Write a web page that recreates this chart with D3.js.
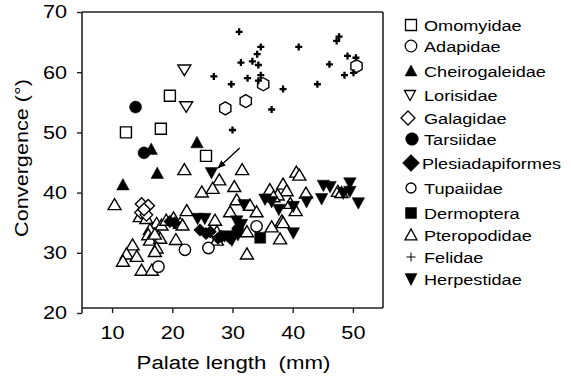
<!DOCTYPE html>
<html><head><meta charset="utf-8">
<script src="https://cdn.jsdelivr.net/npm/d3@7"></script>
<style>body{margin:0;background:#fff}svg{display:block;font-family:"Liberation Sans",Arial,sans-serif}</style>
</head><body><svg id="c" width="571" height="376"></svg>
<script>
const xTicks=[10,20,30,40,50];
const yTicks=[20,30,40,50,60,70];
const omomyidae=[[12.3,50.0],[18.1,50.6],[19.6,56.1],[25.6,46.1]];
const adapidae=[[28.8,54.0],[32.2,55.2],[35.1,58.0],[50.6,61.0]];
const cheirogaleidae=[[11.8,41.3],[16.5,47.2],[17.5,43.2],[24.1,48.3]];
const lorisidae=[[22.0,60.4],[22.3,54.3]];
const galagidae=[[14.9,38.1],[16.0,37.8],[14.8,36.7],[15.7,36.3],[15.3,37.2]];
const tarsiidae=[[13.9,54.2],[15.3,46.6]];
const plesiadapiformes=[[19.6,35.2],[20.4,35.0],[24.6,33.8],[25.6,33.2],[26.3,33.5],[27.6,32.4],[28.2,32.7],[29.6,32.4],[30.4,33.2],[30.9,34.1]];
const tupaiidae=[[17.7,27.7],[22.1,30.5],[26.0,30.8],[34.0,34.4]];
const dermoptera=[[34.6,32.5]];
const pteropodidae=[[10.4,38.0],[22.0,43.8],[31.6,43.8],[27.8,42.1],[24.9,40.1],[26.7,40.7],[30.3,41.0],
[14.6,36.0],[15.7,35.7],[17.4,34.9],[18.2,34.6],[19.0,35.4],[20.2,35.8],[22.4,37.0],[21.3,34.9],[21.7,34.6],
[16.3,33.9],[16.0,33.0],[17.7,32.7],[16.3,32.1],[18.0,32.4],[17.1,33.1],[20.6,32.2],
[17.4,30.8],[17.1,30.2],[13.4,31.3],[12.4,29.8],[14.1,29.4],[11.8,28.6],[14.9,27.1],[16.6,27.1],
[27.1,35.4],[29.6,36.8],[30.7,38.8],[32.9,37.9],[34.0,36.8],[27.4,32.1],[27.4,33.5],[32.4,33.5],
[32.4,29.8],[36.5,34.3],[37.9,32.3],[38.2,35.3],[38.4,35.0],[36.2,40.5],[38.4,41.4],[39.0,40.3],[37.5,39.6],[36.8,39.3],[39.6,38.2],[40.5,37.0],[42.2,39.9],[40.6,43.4],[41.1,42.9],[47.5,40.2],[48.1,40.0]];
const felidae=[[31.1,66.7],[47.7,65.9],[47.3,65.2],[34.7,64.2],[41.0,64.2],[34.1,63.0],[31.4,61.6],[33.3,61.8],[34.3,61.2],[49.1,62.7],[50.5,62.4],[46.1,61.3],[26.9,59.3],[32.5,59.0],[34.7,59.5],[34.3,58.6],[29.8,58.0],[48.6,59.5],[50.1,59.9],[38.4,57.2],[44.1,58.0],[36.5,53.8],[30.0,50.4]];
const herpestidae=[[26.5,43.3],[24.2,35.7],[25.4,35.7],[30.7,35.3],[31.5,34.7],[31.9,38.0],[28.7,32.8],[29.9,32.1],[30.9,33.0],[35.4,38.9],[36.5,38.5],[37.7,37.2],[40.1,37.7],[42.3,38.5],[40.1,33.3],[44.8,39.0],[45.1,41.2],[46.2,41.0],[48.4,39.9],[49.5,41.6],[49.5,40.2],[50.9,38.3]];
const arrowFrom=[31.2,47.4], arrowTo=[27.6,44.1];
const legendNames=["Omomyidae","Adapidae","Cheirogaleidae","Lorisidae","Galagidae","Tarsiidae","Plesiadapiformes","Tupaiidae","Dermoptera","Pteropodidae","Felidae","Herpestidae"];

const SX=1.17; // wide glyph rendering in the reference
const svg=d3.select("#c");
const x=d3.scaleLinear().domain([5,55]).range([82,383]);
const y=d3.scaleLinear().domain([20,70]).range([313,12]);
const axisY=308;

function tri(w,h,down){const a=down?-1:1;return `M0,${-a*h*0.55}L${w/2},${a*h*0.45}L${-w/2},${a*h*0.45}Z`;}
function sq(s){return `M${-s/2},${-s/2}H${s/2}V${s/2}H${-s/2}Z`;}
function circ(r){return `M${r},0A${r},${r} 0 1,1 ${-r},0A${r},${r} 0 1,1 ${r},0Z`;}
function dia(w,h){return `M0,${-h/2}L${w/2},0L0,${h/2}L${-w/2},0Z`;}
function hex(r){let p=[];for(let i=0;i<6;i++){const a=Math.PI/2+i*Math.PI/3;p.push([r*Math.cos(a),r*Math.sin(a)]);}return "M"+p.map(d=>d.join(",")).join("L")+"Z";}
function plus(s){return `M${-s/2},0H${s/2}M0,${-s/2}V${s/2}`;}

const series=[
 {d:pteropodidae,p:tri(13,11,false),fill:"#fff",sw:1.4},
 {d:omomyidae,p:sq(11),fill:"#fff",sw:1.4},
 {d:adapidae,p:hex(6.5),fill:"#fff",sw:1.4},
 {d:lorisidae,p:tri(13,10.5,true),fill:"#fff",sw:1.4},
 {d:galagidae,p:dia(12.5,12.5),fill:"#fff",sw:1.4},
 {d:tupaiidae,p:circ(5.7),fill:"#fff",sw:1.4},
 {d:cheirogaleidae,p:tri(12.5,11.5,false),fill:"#000",sw:0.5},
 {d:tarsiidae,p:circ(6),fill:"#000",sw:0.5},
 {d:herpestidae,p:tri(12.5,11.5,true),fill:"#000",sw:0.5},
 {d:plesiadapiformes,p:dia(12.5,12.5),fill:"#000",sw:0.5},
 {d:dermoptera,p:sq(11),fill:"#000",sw:0.5},
 {d:felidae,p:plus(7),fill:"none",sw:2.3}
];
const g=svg.append("g");
series.forEach(s=>{
  g.selectAll(null).data(s.d).enter().append("path")
   .attr("d",s.p).attr("transform",d=>`translate(${x(d[0])},${y(d[1])})`)
   .attr("fill",s.fill).attr("stroke","#000").attr("stroke-width",s.sw);
});

svg.append("defs").append("marker").attr("id","ah").attr("viewBox","0 0 10 10").attr("refX",9).attr("refY",5)
 .attr("markerWidth",6).attr("markerHeight",6).attr("orient","auto")
 .append("path").attr("d","M0,1L10,5L0,9Z").attr("fill","#000");
svg.append("line").attr("x1",x(arrowFrom[0])).attr("y1",y(arrowFrom[1])).attr("x2",x(arrowTo[0])).attr("y2",y(arrowTo[1]))
 .attr("stroke","#000").attr("stroke-width",1.4).attr("marker-end","url(#ah)");

const lc="#222";
svg.append("line").attr("x1",82).attr("x2",383).attr("y1",12).attr("y2",12).attr("stroke",lc).attr("stroke-width",1.6);
svg.append("line").attr("x1",383).attr("x2",383).attr("y1",12).attr("y2",axisY).attr("stroke",lc).attr("stroke-width",1.6);

const ya=svg.append("g").attr("transform","translate(82,0)")
 .call(d3.axisLeft(y).tickValues(yTicks).tickSize(5).tickPadding(10).tickSizeOuter(0));
const xa=svg.append("g").attr("transform",`translate(0,${axisY})`)
 .call(d3.axisBottom(x).tickValues(xTicks).tickSize(5).tickPadding(13).tickSizeOuter(0));
[ya,xa].forEach(a=>{a.select(".domain").attr("stroke",lc).attr("stroke-width",1.6);
 a.selectAll(".tick line").attr("stroke",lc).attr("stroke-width",1.4);
 a.selectAll("text").attr("font-size",18.5).attr("fill","#000").attr("font-family","Liberation Sans, Arial, sans-serif");});
ya.selectAll(".tick text").attr("x",-15/SX).attr("transform",`scale(${SX},1)`);
xa.selectAll(".tick text").attr("transform",`scale(${SX},1)`);
ya.select(".domain").attr("d","M0,12V313");
xa.select(".domain").attr("d","M82,0H383");

svg.append("text").attr("transform",`translate(233.5,369) scale(${SX},1)`).attr("text-anchor","middle").attr("font-size",19)
 .attr("xml:space","preserve").style("white-space","pre").text("Palate length  (mm)");
svg.append("text").attr("transform",`translate(28,158) rotate(-90) scale(${SX},1)`).attr("text-anchor","middle").attr("font-size",18.5)
 .text("Convergence (°)");

const legY=[25,46,71,95,118,139,163,188,213,235,257,279];
const legMarks=[
 {p:sq(11),fill:"#fff",sw:1.3,dx:0},
 {p:circ(5.8),fill:"#fff",sw:1.3,dx:0},
 {p:tri(12,11,false),fill:"#000",sw:0.5,dx:0},
 {p:tri(11,10,true),fill:"#fff",sw:1.3,dx:-1},
 {p:dia(14,14),fill:"#fff",sw:1.3,dx:-3},
 {p:circ(6.3),fill:"#000",sw:0.5,dx:1},
 {p:dia(17,17),fill:"#000",sw:0.5,dx:0},
 {p:circ(5),fill:"#fff",sw:1.3,dx:0},
 {p:sq(11),fill:"#000",sw:0.5,dx:0},
 {p:tri(12,11,false),fill:"#fff",sw:1.3,dx:0},
 {p:plus(9),fill:"none",sw:1,dx:0},
 {p:tri(12,12,true),fill:"#000",sw:0.5,dx:0}
];
const lg=svg.append("g");
legendNames.forEach((n,i)=>{
  const m=legMarks[i];
  lg.append("path").attr("d",m.p).attr("transform",`translate(${411+m.dx},${legY[i]})`)
   .attr("fill",m.fill).attr("stroke","#000").attr("stroke-width",m.sw);
  lg.append("text").attr("transform",`translate(${i===6?422:424},${legY[i]+5.5}) scale(${SX},1)`).attr("font-size",15.5).text(n);
});
</script></body></html>
